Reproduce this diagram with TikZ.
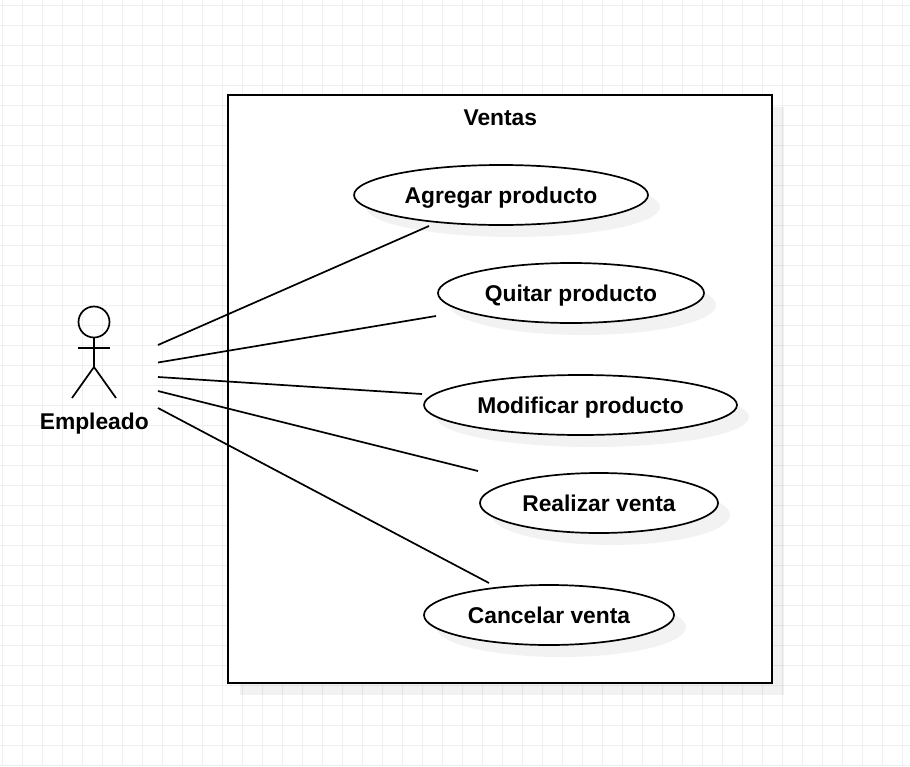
\documentclass[tikz,border=0pt]{standalone}
\usepackage{fontspec}
\setmainfont{Liberation Sans}
\usetikzlibrary{shapes.geometric,shadows}
\definecolor{gridc}{HTML}{EFEFEF}
\tikzset{
  x=1pt,y=-1pt,
  gridline/.style={draw=gridc,line width=1.1pt},
  softshadow/.style={drop shadow={shadow xshift=12pt,shadow yshift=-12pt,fill=black,opacity=0.05}},
  usecase/.style={ellipse,draw=black,fill=white,line width=1.7pt,inner sep=0pt,outer sep=0pt,minimum height=60pt,softshadow,font=\fontsize{22.8}{27}\bfseries,text=black,text height=20pt,text depth=4pt},
  sysbox/.style={rectangle,draw=black,fill=white,line width=2pt,inner sep=0pt,minimum width=544pt,minimum height=588pt,softshadow},
  assoc/.style={draw=black,line width=1.7pt},
  stick/.style={draw=black,line width=1.7pt},
  lbl/.style={inner sep=0pt,font=\fontsize{22.8}{27}\bfseries,text=black,text height=20pt,text depth=4pt}
}
\begin{document}
\begin{tikzpicture}
\useasboundingbox (0,0) rectangle (910,766);
\fill[white] (0,0) rectangle (910,766);
\foreach \gx in {2.7,22.7,...,910}{\draw[gridline] (\gx,0) -- (\gx,766);}
\foreach \gy in {5.3,25.3,...,766}{\draw[gridline] (0,\gy) -- (910,\gy);}
\node[sysbox] (sys) at (500,389) {};
\node[lbl] (title) at (500.3,117) {Ventas};
\node[usecase,minimum width=294pt] (uc1) at (501,195) {Agregar producto};
\node[usecase,minimum width=266pt] (uc2) at (571,293) {Quitar producto};
\node[usecase,minimum width=313pt] (uc3) at (580.5,405) {Modificar producto};
\node[usecase,minimum width=238pt] (uc4) at (599,503) {Realizar venta};
\node[usecase,minimum width=250pt] (uc5) at (549,615) {Cancelar venta};
% actor
\node[circle,draw=black,line width=1.7pt,minimum size=31pt,inner sep=0pt] (head) at (94,322) {};
\coordinate (hip) at (94,367);
\coordinate (armL) at (78,348);
\coordinate (armR) at (110,348);
\coordinate (footL) at (72,398);
\coordinate (footR) at (116,398);
\draw[stick] (head.south) -- (hip);
\draw[stick] (armL) -- (armR);
\draw[stick] (footL) -- (hip) -- (footR);
\node[lbl] (actor) at (94.3,421) {Empleado};
% connectors
\coordinate (a1) at (158,345);\coordinate (e1) at (429,226);
\coordinate (a2) at (158,362.5);\coordinate (e2) at (436,316);
\coordinate (a3) at (158,377);\coordinate (e3) at (422,394);
\coordinate (a4) at (158,391);\coordinate (e4) at (478,471);
\coordinate (a5) at (158,408);\coordinate (e5) at (489,583);
\draw[assoc] (a1) -- (e1);
\draw[assoc] (a2) -- (e2);
\draw[assoc] (a3) -- (e3);
\draw[assoc] (a4) -- (e4);
\draw[assoc] (a5) -- (e5);
\end{tikzpicture}
\end{document}
